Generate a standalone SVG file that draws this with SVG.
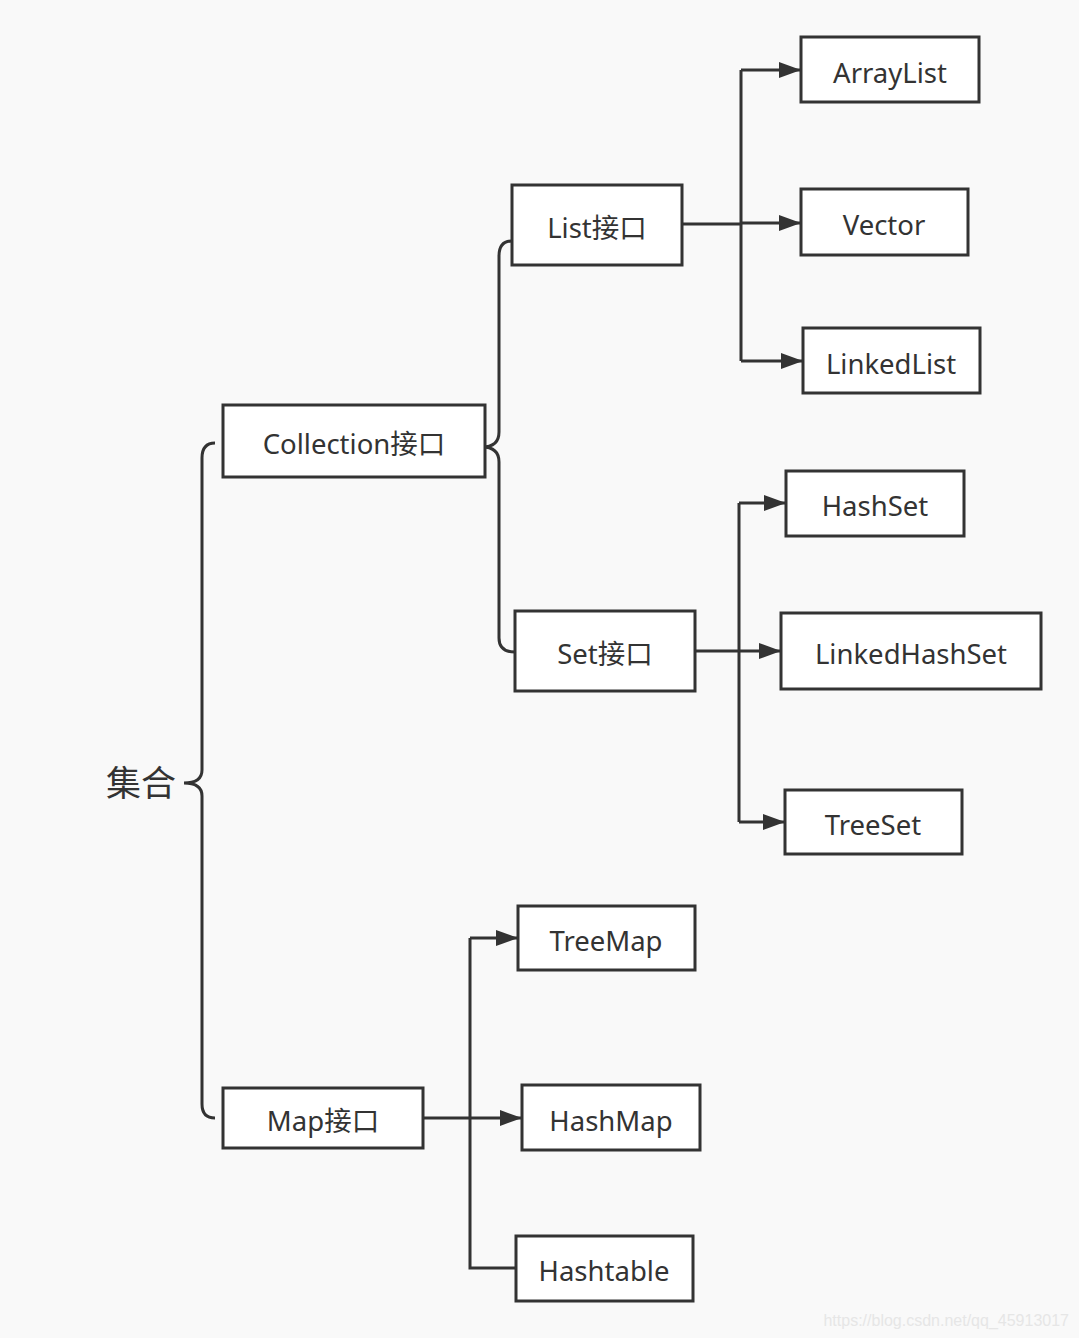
<svg xmlns="http://www.w3.org/2000/svg" width="1079" height="1338" viewBox="0 0 1079 1338">
<defs>
<marker id="arr" viewBox="0 0 22 16" refX="22" refY="8" markerWidth="22" markerHeight="16" markerUnits="userSpaceOnUse" orient="auto">
<path d="M0,0 L22,8 L0,16 Z" fill="#333"/>
</marker>
<style>
.box{fill:#fff;stroke:#333;stroke-width:3}
.t{font-family:"Noto Sans","Noto Sans CJK SC",sans-serif;font-size:27.5px;fill:#333;text-anchor:middle;dominant-baseline:central}
.c{fill:none;stroke:#333;stroke-width:3}
.a{fill:none;stroke:#333;stroke-width:3;marker-end:url(#arr)}
</style>
</defs>
<rect width="1079" height="1338" fill="#f9f9f9"/>
<g id="connectors">
<path class="c" d="M215,443 Q202,443 202,458 L202,770 Q202,783 184,783 Q202,783 202,796 L202,1104 Q202,1118 215,1118"/>
<path class="c" d="M512,241 Q499,241 499,256 L499,432 Q499,447 482,447 Q499,447 499,462 L499,638 Q499,652 515,652"/>
<path class="c" d="M682,224 L741,224 M741,70 L741,361"/>
<path class="a" d="M741,70 L801,70"/>
<path class="a" d="M741,223 L801,223"/>
<path class="a" d="M741,361 L803,361"/>
<path class="c" d="M695,651 L739,651 M739,503 L739,822"/>
<path class="a" d="M739,503 L786,503"/>
<path class="a" d="M739,651 L781,651"/>
<path class="a" d="M739,822 L785,822"/>
<path class="c" d="M423,1118 L470,1118 M470,938 L470,1268 L516,1268"/>
<path class="a" d="M470,938 L518,938"/>
<path class="a" d="M470,1118 L522,1118"/>
</g>
<g id="root"><text class="t" x="141" y="782" style="font-size:35px">集合</text></g>
<g id="collection"><rect class="box" x="223" y="405" width="262" height="72"/><text class="t" x="354" y="443">Collection接口</text></g>
<g id="list"><rect class="box" x="512" y="185" width="170" height="80"/><text class="t" x="597" y="227">List接口</text></g>
<g id="set"><rect class="box" x="515" y="611" width="180" height="80"/><text class="t" x="605" y="653">Set接口</text></g>
<g id="map"><rect class="box" x="223" y="1088" width="200" height="60"/><text class="t" x="323" y="1120">Map接口</text></g>
<g id="arraylist"><rect class="box" x="801" y="37" width="178" height="65"/><text class="t" x="890" y="72">ArrayList</text></g>
<g id="vector"><rect class="box" x="801" y="189" width="167" height="66"/><text class="t" x="884" y="224">Vector</text></g>
<g id="linkedlist"><rect class="box" x="803" y="328" width="177" height="65"/><text class="t" x="891" y="363">LinkedList</text></g>
<g id="hashset"><rect class="box" x="786" y="471" width="178" height="65"/><text class="t" x="875" y="505">HashSet</text></g>
<g id="linkedhashset"><rect class="box" x="781" y="613" width="260" height="76"/><text class="t" x="911" y="653">LinkedHashSet</text></g>
<g id="treeset"><rect class="box" x="785" y="790" width="177" height="64"/><text class="t" x="873" y="824">TreeSet</text></g>
<g id="treemap"><rect class="box" x="518" y="906" width="177" height="64"/><text class="t" x="606" y="940">TreeMap</text></g>
<g id="hashmap"><rect class="box" x="522" y="1085" width="178" height="65"/><text class="t" x="611" y="1120">HashMap</text></g>
<g id="hashtable"><rect class="box" x="516" y="1236" width="177" height="65"/><text class="t" x="604" y="1270">Hashtable</text></g>
<text x="1069" y="1320" style="font-family:'Liberation Sans',sans-serif;font-size:16px;fill:#e6e6e6;text-anchor:end;dominant-baseline:central">https://blog.csdn.net/qq_45913017</text>
</svg>
